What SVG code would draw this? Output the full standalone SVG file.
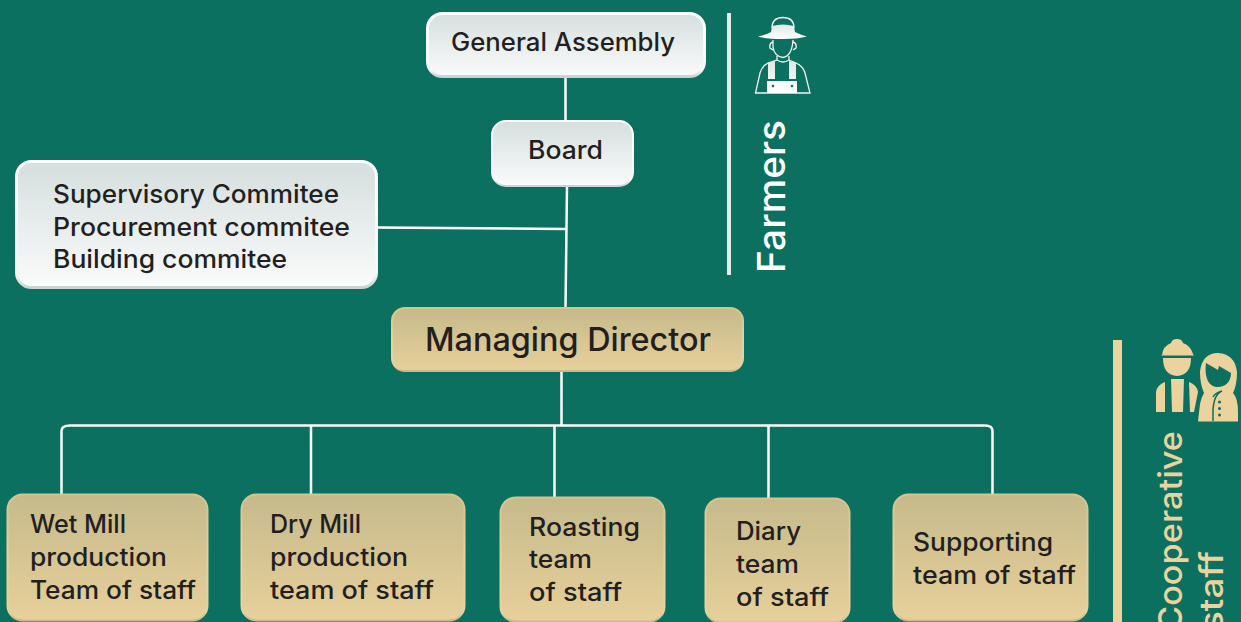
<svg xmlns="http://www.w3.org/2000/svg" width="1241" height="622" viewBox="0 0 1241 622">
<defs>
<linearGradient id="w" x1="0" y1="0" x2="0" y2="1"><stop offset="0" stop-color="#d5dfde"/><stop offset="1" stop-color="#fafbfb"/></linearGradient>
<linearGradient id="ws" x1="0" y1="0" x2="0" y2="1"><stop offset="0" stop-color="#fff"/><stop offset="0.9" stop-color="#f4f7f6"/><stop offset="1" stop-color="#c8d3d2"/></linearGradient>
<linearGradient id="g" x1="0" y1="0" x2="0" y2="1"><stop offset="0" stop-color="#c6ba8b"/><stop offset="1" stop-color="#e7d09b"/></linearGradient>
<linearGradient id="gs" x1="0" y1="0" x2="0" y2="1"><stop offset="0" stop-color="#d4c48f"/><stop offset="0.5" stop-color="#e6d29c"/><stop offset="0.93" stop-color="#e6d29c"/><stop offset="1" stop-color="#c8b98b"/></linearGradient>
<linearGradient id="ic" x1="0" y1="0" x2="0" y2="1"><stop offset="0" stop-color="#dfe7e5"/><stop offset="1" stop-color="#ffffff"/></linearGradient>
</defs>
<style>
text{font-family:"Inter","Roboto","Liberation Sans",sans-serif;font-weight:550;fill:#231f20}
.n{font-size:25px}
.w{fill:url(#w);stroke:url(#ws);stroke-width:3}
.g{fill:url(#g);stroke:url(#gs);stroke-width:2}
.c{fill:none;stroke:#fff;stroke-width:2.500}
.si{fill:#ead39d}
.fi{fill:none;stroke:#f2f5f4;stroke-width:1.300}
.ff{fill:url(#ic)}
</style>
<rect width="1241" height="622" fill="#0b7060"/>
<g id="connectors">
<path class="c" d="M565.500 77V121M567 186L565.500 308M377 227.500L566 229M561.500 371V425.500M61.500 495V431Q61.500 425.500 70 425.500H985Q992.500 425.500 992.500 431V495M311 425.500V495M554.500 425.500V497M768.500 425.500V498"/>
</g>
<g id="general-assembly"><rect class="w" x="427.500" y="13.500" width="277" height="63" rx="15"/><text class="n" x="451" y="51" textLength="224" lengthAdjust="spacingAndGlyphs">General Assembly</text></g>
<g id="board"><rect class="w" style="stroke-width:2" x="492" y="121" width="141" height="65" rx="14"/><text class="n" x="528" y="159" textLength="75" lengthAdjust="spacingAndGlyphs">Board</text></g>
<g id="committees"><rect class="w" x="16.500" y="161.500" width="360" height="126" rx="15"/>
<text class="n" x="53" y="203" textLength="286" lengthAdjust="spacingAndGlyphs">Supervisory Commitee</text>
<text class="n" x="53" y="236" textLength="297" lengthAdjust="spacingAndGlyphs">Procurement commitee</text>
<text class="n" x="53" y="268" textLength="234" lengthAdjust="spacingAndGlyphs">Building commitee</text></g>
<g id="managing-director"><rect class="g" x="392" y="308" width="351" height="63" rx="13"/><text x="425" y="351" font-size="32" textLength="286" lengthAdjust="spacingAndGlyphs">Managing Director</text></g>
<g id="wet-mill"><rect class="g" x="7.500" y="494.500" width="200" height="126" rx="15"/>
<text class="n" x="30" y="533" textLength="96" lengthAdjust="spacingAndGlyphs">Wet Mill</text>
<text class="n" x="30" y="566" textLength="137" lengthAdjust="spacingAndGlyphs">production</text>
<text class="n" x="30" y="599" textLength="166" lengthAdjust="spacingAndGlyphs">Team of staff</text></g>
<g id="dry-mill"><rect class="g" x="241.500" y="494.500" width="223" height="126" rx="15"/>
<text class="n" x="270" y="533" textLength="91" lengthAdjust="spacingAndGlyphs">Dry Mill</text>
<text class="n" x="270" y="566" textLength="138" lengthAdjust="spacingAndGlyphs">production</text>
<text class="n" x="270" y="599" textLength="164" lengthAdjust="spacingAndGlyphs">team of staff</text></g>
<g id="roasting"><rect class="g" x="500.500" y="497.500" width="164" height="124" rx="15"/>
<text class="n" x="529" y="536" textLength="111" lengthAdjust="spacingAndGlyphs">Roasting</text>
<text class="n" x="529" y="568" textLength="63" lengthAdjust="spacingAndGlyphs">team</text>
<text class="n" x="529" y="601" textLength="93" lengthAdjust="spacingAndGlyphs">of staff</text></g>
<g id="diary"><rect class="g" x="705.500" y="498.500" width="144" height="124" rx="15"/>
<text class="n" x="736" y="540" textLength="65" lengthAdjust="spacingAndGlyphs">Diary</text>
<text class="n" x="736" y="573" textLength="63" lengthAdjust="spacingAndGlyphs">team</text>
<text class="n" x="736" y="606" textLength="93" lengthAdjust="spacingAndGlyphs">of staff</text></g>
<g id="supporting"><rect class="g" x="893.500" y="494.500" width="194" height="126" rx="15"/>
<text class="n" x="913" y="551" textLength="140" lengthAdjust="spacingAndGlyphs">Supporting</text>
<text class="n" x="913" y="584" textLength="163" lengthAdjust="spacingAndGlyphs">team of staff</text></g>
<g id="farmers-band">
<rect x="727" y="13" width="4" height="262" fill="#e6ecea"/>
<path class="fi" d="M772 28C772 21 776 17.500 783 17.500C790 17.500 794 21 794 28"/>
<path class="ff" d="M772 26Q783 23 794 26L795 32Q801 35 807 36.500Q798 39 782.500 39Q767 39 758 36.500Q766 35 771 32Z"/>
<path class="fi" d="M773 40V47Q774 56 783 57.500Q792 56 793 40M773 42Q769 43 770 48L773 50M793 42Q797 43 796 48L793 50M777 56V60L768 63Q762 66 760 73L755.500 93H810L805 73Q803 66 796 63L789 60V56M777 60Q783 64 789 60"/>
<path class="ff" d="M768 62.500L775 61V79H768ZM789 61L796 62.500V79H789ZM767 81H797V93H767Z"/>
<circle cx="773" cy="86" r="1.300" fill="#0b7060"/><circle cx="792" cy="86" r="1.300" fill="#0b7060"/>
<text transform="translate(785 273) rotate(-90)" font-size="38" style="fill:#fff" textLength="153" lengthAdjust="spacingAndGlyphs">Farmers</text>
</g>
<g id="staff-band">
<rect x="1113" y="340" width="9" height="282" class="si"/>
<path class="si" d="M1162 355Q1163 346 1171 343Q1172 339 1177 339Q1182 339 1183 343Q1191 346 1193 354L1194 355.500H1161ZM1163 358H1191Q1191 375 1177 376Q1163 375 1163 358ZM1156 412V392Q1157 385 1165 382V412ZM1171 379H1184L1183 412H1172ZM1189 382Q1197 385 1198 392L1194 412H1190Z"/>
<path class="si" fill-rule="evenodd" d="M1198 421.500L1200 404Q1201 398 1204 393Q1200 384 1200 372Q1202 353 1218 353Q1235 354 1237 372Q1237 385 1233 393Q1238 398 1238 412V421.500ZM1206 363L1218 370L1219 366L1231 373C1231 382 1225 387 1218 387C1210 387 1204 380 1206 363Z"/>
<path d="M1213 397Q1215 393 1222 391Q1214 394 1213 410V421" fill="none" stroke="#0b7060" stroke-width="1.500"/>
<circle cx="1219.500" cy="402" r="1.500" fill="#0b7060"/><circle cx="1219.500" cy="408.500" r="1.500" fill="#0b7060"/><circle cx="1219.500" cy="415" r="1.500" fill="#0b7060"/>
<text transform="translate(1182 631) rotate(-90)" font-size="33" style="fill:#ead39d" textLength="200" lengthAdjust="spacingAndGlyphs">Cooperative</text>
<text transform="translate(1223 631) rotate(-90)" font-size="33" style="fill:#ead39d" textLength="80" lengthAdjust="spacingAndGlyphs">staff</text>
</g>
</svg>
